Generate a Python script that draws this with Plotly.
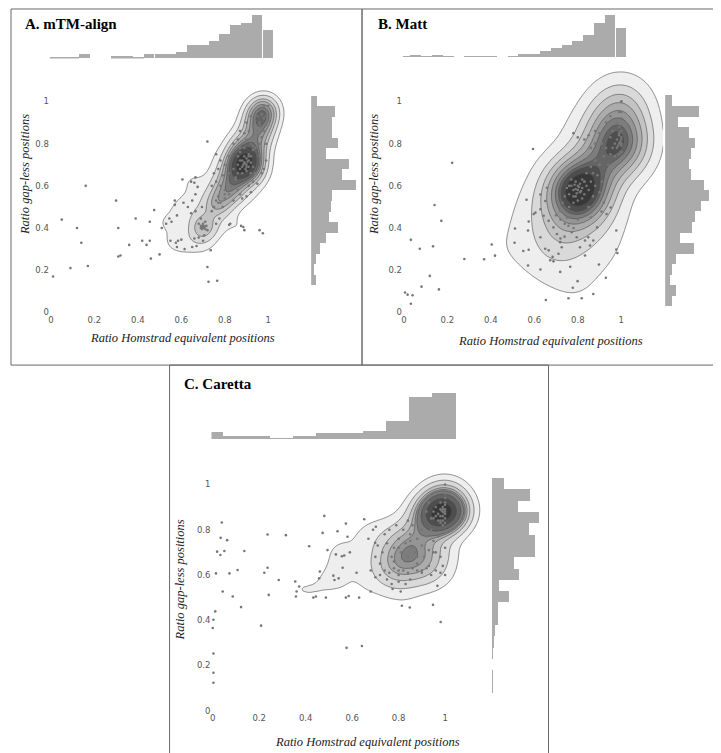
import numpy as np
import plotly.graph_objects as go

# ---------------- DATA ----------------
A_POINTS = [
    (0.01,0.17),(0.09,0.21),(0.17,0.22),(0.05,0.44),(0.12,0.40),(0.14,0.33),(0.16,0.60),(0.30,0.53),
    (0.31,0.40),(0.32,0.27),(0.31,0.265),(0.36,0.32),(0.39,0.445),(0.42,0.34),(0.44,0.32),(0.455,0.34),
    (0.455,0.43),(0.46,0.255),(0.475,0.485),(0.50,0.275),(0.51,0.40),(0.53,0.42),(0.545,0.445),(0.55,0.34),
    (0.555,0.43),(0.575,0.33),(0.585,0.34),(0.58,0.31),(0.60,0.345),(0.615,0.30),(0.65,0.31),(0.67,0.315),
    (0.72,0.81),(0.72,0.215),(0.725,0.145),(0.765,0.15),(0.735,0.295),(0.76,0.75),(0.82,0.415),(0.825,0.42),
    (0.875,0.41),(0.885,0.405),(0.89,0.39),(0.96,0.39),(0.975,0.375),
    (0.57,0.53),(0.57,0.51),(0.58,0.46),(0.605,0.63),(0.61,0.52),(0.63,0.50),(0.645,0.62),(0.66,0.615),
    (0.665,0.64),(0.675,0.595),(0.665,0.56),(0.65,0.53),(0.645,0.47),(0.665,0.48),(0.695,0.50),(0.69,0.445),
    (0.68,0.42),(0.70,0.41),(0.71,0.43),(0.72,0.39),(0.705,0.365),(0.68,0.355),(0.66,0.35),(0.70,0.34),
    (0.76,0.42),(0.775,0.445),(0.69,0.40),(0.71,0.395),(0.70,0.42),(0.695,0.395),(0.705,0.405),(0.715,0.41),
    (0.69,0.41),
    (0.74,0.48),(0.75,0.50),(0.76,0.53),(0.77,0.55),(0.78,0.52),(0.79,0.50),(0.80,0.54),(0.80,0.58),
    (0.78,0.60),(0.76,0.62),(0.74,0.60),(0.75,0.66),(0.77,0.68),(0.79,0.65),(0.81,0.62),(0.82,0.56),
    (0.84,0.53),(0.83,0.60),(0.82,0.66),(0.80,0.70),(0.78,0.72),(0.82,0.74),(0.84,0.68),(0.85,0.63),
    (0.86,0.58),(0.87,0.56),(0.88,0.54),(0.90,0.55),(0.92,0.57),(0.91,0.60),(0.93,0.62),(0.95,0.61),
    (0.97,0.66),(0.94,0.66),
    (0.86,0.70),(0.87,0.72),(0.88,0.69),(0.89,0.71),(0.90,0.70),(0.90,0.73),(0.91,0.69),(0.89,0.74),
    (0.88,0.66),(0.90,0.67),(0.92,0.71),(0.91,0.75),(0.87,0.76),(0.89,0.78),(0.86,0.66),(0.88,0.72),
    (0.895,0.705),(0.905,0.715),(0.885,0.70),(0.90,0.69),(0.92,0.74),(0.93,0.69),(0.86,0.74),(0.91,0.72),
    (0.895,0.68),
    (0.84,0.80),(0.86,0.82),(0.88,0.80),(0.90,0.82),(0.92,0.80),(0.94,0.78),(0.96,0.80),(0.93,0.84),
    (0.95,0.86),(0.91,0.86),(0.89,0.85),(0.87,0.86),(0.93,0.88),(0.96,0.90),(0.98,0.92),(0.97,0.94),
    (0.99,0.96),(0.95,0.93),(0.94,0.91),(0.97,0.88),(0.99,0.89),(1.0,0.98),(0.98,0.98),(0.96,0.96),
    (0.97,0.97),(0.99,0.93),(0.98,0.86),(1.0,0.91),(0.92,0.93),(0.90,0.90),(0.97,0.83),(0.99,0.80),
    (0.93,0.77),(0.96,0.74),(0.99,0.72),(0.98,0.68),
]
# overlapping observations hidden under one marker: (x, y, count)
A_STACKS = [
    (0.89,0.71,45),(0.87,0.68,20),(0.91,0.74,20),(0.85,0.64,15),(0.83,0.60,15),(0.80,0.56,12),
    (0.77,0.52,10),(0.75,0.50,6),(0.93,0.79,12),(0.95,0.84,12),(0.96,0.89,15),(0.97,0.94,22),
    (0.98,0.97,12),(0.70,0.40,10),(0.92,0.66,8),(0.87,0.78,8),
]

B_POINTS = [
    (0.005,0.094),(0.017,0.084),(0.04,0.081),(0.032,0.041),(0.032,0.344),(0.073,0.302),(0.081,0.122),
    (0.119,0.173),(0.134,0.313),(0.141,0.509),(0.161,0.109),(0.172,0.434),(0.222,0.709),(0.278,0.253),
    (0.369,0.252),(0.404,0.322),(0.419,0.269),(0.511,0.398),(0.509,0.33),(0.549,0.291),(0.571,0.222),
    (0.574,0.297),(0.594,0.775),(0.564,0.534),(0.574,0.431),(0.571,0.388),(0.597,0.466),(0.605,0.473),
    (0.628,0.203),(0.653,0.059),(0.628,0.356),(0.65,0.302),(0.666,0.294),(0.673,0.247),(0.688,0.242),
    (0.684,0.263),(0.711,0.278),(0.719,0.192),(0.726,0.309),(0.757,0.067),(0.765,0.216),(0.777,0.117),
    (0.799,0.148),(0.818,0.067),(0.833,0.27),(0.871,0.087),(0.897,0.227),(0.929,0.164),(0.977,0.298),
    (0.982,0.281),(0.977,0.388),(0.951,0.497),(0.932,0.466),(0.909,0.478),(0.889,0.403),(0.871,0.341),
    (0.856,0.317),(0.848,0.356),(0.833,0.341),(0.81,0.309),(0.795,0.356),(0.772,0.38),(0.757,0.411),
    (0.739,0.359),(0.719,0.333),(0.704,0.372),(0.688,0.403),(0.666,0.434),(0.643,0.458),(0.628,0.489),
    (0.65,0.528),(0.628,0.559),(0.658,0.591),
    (0.76,0.56),(0.77,0.60),(0.78,0.58),(0.79,0.55),(0.79,0.62),(0.80,0.58),(0.80,0.60),(0.81,0.57),
    (0.81,0.61),(0.82,0.59),(0.83,0.56),(0.82,0.63),(0.80,0.53),(0.78,0.52),(0.84,0.60),(0.83,0.62),
    (0.85,0.58),(0.77,0.63),(0.75,0.59),(0.79,0.585),(0.805,0.595),(0.815,0.575),(0.795,0.565),(0.785,0.605),
    (0.86,0.62),(0.74,0.55),(0.73,0.52),(0.76,0.50),(0.72,0.48),(0.70,0.46),
    (0.84,0.66),(0.86,0.69),(0.88,0.72),(0.90,0.70),(0.92,0.74),(0.89,0.65),(0.91,0.62),(0.93,0.66),
    (0.94,0.70),(0.87,0.55),(0.88,0.60),(0.90,0.57),(0.92,0.52),(0.85,0.50),(0.83,0.46),(0.86,0.45),
    (0.80,0.44),(0.78,0.40),(0.76,0.45),(0.74,0.42),(0.72,0.44),
    (0.98,0.78),(0.99,0.80),(1.0,0.82),(1.0,0.79),(0.99,0.84),(1.0,0.76),(0.98,0.82),(1.0,0.86),
    (0.99,0.75),(1.0,0.80),(0.995,0.81),(0.985,0.79),(1.0,0.83),(0.97,0.80),(0.99,0.88),(1.0,0.92),
    (0.99,0.95),(1.0,1.0),(0.98,0.90),(0.96,0.86),(0.95,0.83),(0.97,0.74),(0.96,0.78),
    (0.78,0.85),(0.80,0.83),(0.83,0.82),(0.85,0.84),(0.88,0.86),(0.90,0.85),(0.92,0.87),(0.94,0.90),
    (0.95,0.93),(0.88,0.80),(0.86,0.78),(0.91,0.80),(0.93,0.78),
]
B_STACKS = [
    (0.80,0.58,50),(0.78,0.55,15),(0.83,0.62,15),(0.76,0.60,10),(0.82,0.54,10),
    (1.0,0.80,35),(1.0,0.76,10),(0.99,0.85,15),(1.0,0.95,18),(1.0,1.0,12),
    (0.90,0.70,15),(0.95,0.75,10),(0.87,0.66,10),(0.75,0.45,8),(0.85,0.50,8),(0.72,0.35,6),(0.93,0.90,8),
]

C_POINTS = [
    (0.039,0.832),(0.034,0.764),(0.062,0.754),(0.019,0.703),(0.033,0.688),(0.05,0.706),(0.136,0.706),
    (0.014,0.607),(0.072,0.607),(0.107,0.622),(0.043,0.527),(0.086,0.505),(0.122,0.458),(0.011,0.439),
    (0.003,0.402),(0.0,0.366),(0.003,0.253),(0.003,0.168),(0.003,0.124),(0.208,0.376),(0.236,0.779),
    (0.222,0.61),(0.236,0.632),(0.241,0.512),(0.284,0.578),(0.315,0.776),(0.355,0.571),(0.372,0.549),
    (0.361,0.527),(0.358,0.505),(0.415,0.727),(0.433,0.5),(0.444,0.505),(0.461,0.615),(0.458,0.585),
    (0.473,0.786),(0.48,0.861),(0.487,0.5),(0.494,0.71),(0.519,0.597),(0.524,0.578),(0.53,0.691),
    (0.537,0.793),(0.542,0.585),(0.556,0.683),(0.559,0.632),(0.566,0.686),(0.573,0.827),(0.58,0.769),
    (0.59,0.7),(0.573,0.5),(0.585,0.507),(0.63,0.5),(0.619,0.61),(0.652,0.846),(0.68,0.527),(0.699,0.742),
    (0.702,0.813),(0.576,0.278),(0.642,0.286),(0.774,0.538),(0.809,0.527),(0.814,0.464),(0.848,0.456),
    (0.948,0.468),(0.981,0.392),(0.967,0.552),
    (0.72,0.60),(0.74,0.62),(0.76,0.61),(0.78,0.63),(0.80,0.60),(0.82,0.62),(0.84,0.61),(0.86,0.63),
    (0.88,0.62),(0.90,0.61),(0.92,0.63),(0.94,0.60),(0.96,0.62),(0.98,0.61),(1.0,0.60),(0.85,0.58),
    (0.80,0.57),(0.75,0.58),(0.70,0.59),(0.68,0.62),(0.72,0.65),(0.88,0.65),(0.93,0.64),(0.99,0.64),
    (0.77,0.56),(0.83,0.56),
    (0.73,0.70),(0.75,0.74),(0.77,0.68),(0.78,0.72),(0.80,0.76),(0.81,0.70),(0.83,0.74),(0.84,0.68),
    (0.85,0.78),(0.86,0.72),(0.87,0.70),(0.88,0.76),(0.89,0.80),(0.90,0.73),(0.91,0.68),(0.92,0.77),
    (0.93,0.71),(0.94,0.80),(0.95,0.75),(0.96,0.70),(0.82,0.80),(0.79,0.82),(0.76,0.80),(0.74,0.78),
    (0.71,0.73),(0.70,0.68),(0.67,0.76),(0.69,0.80),(0.86,0.82),(0.84,0.84),(0.97,0.77),(1.0,0.72),
    (0.98,0.68),
    (0.98,0.86),(0.99,0.88),(1.0,0.87),(0.99,0.90),(1.0,0.91),(0.98,0.89),(0.97,0.87),(1.0,0.85),
    (0.99,0.84),(1.0,0.89),(0.99,0.86),(0.98,0.92),(1.0,0.94),(0.99,0.97),(1.0,1.0),(0.99,0.82),
    (1.0,0.83),(0.96,0.90),(0.97,0.84),(0.995,0.875),(0.985,0.885),(1.0,0.88),(0.99,0.89),(0.98,0.83),
    (0.96,0.86),(0.95,0.88),(0.94,0.85),(0.92,0.88),(0.93,0.92),(0.90,0.90),(0.88,0.87),
]
C_STACKS = [
    (0.99,0.88,90),(1.0,0.92,20),(0.98,0.84,20),(1.0,0.96,10),(0.95,0.85,12),(0.90,0.80,12),
    (0.85,0.75,12),(0.80,0.72,12),(0.78,0.66,12),(0.88,0.68,12),(0.90,0.62,10),(0.80,0.62,10),(0.95,0.70,10),
]

# marginal histograms (bin centres and bar heights)
AB_TOP_CENTERS = [0.004,0.054,0.103,0.153,0.203,0.253,0.302,0.352,0.402,0.451,0.501,
                  0.551,0.600,0.650,0.700,0.750,0.799,0.849,0.899,0.948,0.998]
A_TOP_COUNTS = [0.7,0.7,0.7,4,0,0,2,2,0.7,4,4,4,6.3,13.3,13.3,18,24.7,34,35.7,43.3,28.7]
B_TOP_COUNTS = [0.5,2.3,0.7,2.3,0.3,0,0.3,0.3,1,0,0.7,3.3,3.3,6,9.3,11.7,16,22,34.3,42,29.3]

A_RIGHT_CENTERS = [0.155,0.205,0.255,0.305,0.355,0.405,0.455,0.505,0.555,0.605,
                   0.655,0.705,0.755,0.805,0.855,0.905,0.955,1.005]
A_RIGHT_COUNTS = [5.3,3,5.3,9,15.3,27,18,19.7,21.3,44.7,31.3,38,14.7,27,21.3,20.7,23.7,6.3]

B_RIGHT_CENTERS = [0.055,0.105,0.155,0.205,0.255,0.305,0.355,0.405,0.455,0.505,
                   0.555,0.605,0.655,0.705,0.755,0.805,0.855,0.905,0.955,1.005]
B_RIGHT_COUNTS = [7,11,5,7,11,29,15,27,30,36,44,39,26,24,26,30,24,13,34,6.7]

C_TOP_CENTERS = [-0.003,0.097,0.197,0.297,0.397,0.497,0.597,0.697,0.797,0.897,0.997]
C_TOP_COUNTS = [7.3,3,3,1.3,3.3,6,6,7.7,18.3,42.3,46]

C_RIGHT_CENTERS = [0.105,0.155,0.205,0.255,0.305,0.355,0.405,0.455,0.505,0.555,
                   0.605,0.655,0.705,0.755,0.805,0.855,0.905,0.955,1.005]
C_RIGHT_COUNTS = [0.7,0.7,0,0.7,1.7,2.7,6,6,16.7,6.7,26.7,21.7,42.7,43.3,36.7,46.7,26,37.7,11.7]

TICK_VALS = [0, 0.2, 0.4, 0.6, 0.8, 1]
TICK_TEXT = ["0", "0.2", "0.4", "0.6", "0.8", "1"]
TITLES = ["A. mTM-align", "B. Matt", "C. Caretta"]
X_TITLE = "Ratio Homstrad equivalent positions"
Y_TITLE = "Ratio gap-less positions"

# ---------------- LAYOUT HELPERS ----------------
W, H = 721, 753
def px_x(p): return p / W
def px_y(p): return 1 - p / H

BAND_COLORS = ["rgba(255,255,255,0)", "#eeeeee", "#d9d9d9", "#c3c3c3", "#acacac",
               "#959595", "#7d7d7d", "#656565", "#4e4e4e", "#383838"]
COLORSCALE = [[i / 9, c] for i, c in enumerate(BAND_COLORS)]
HIST_COLOR = "#ababab"

def kde_iso(pts, stacks, xr, yr, bw, n=150):
    xs = np.array([p[0] for p in pts] + [s[0] for s in stacks], dtype=float)
    ys = np.array([p[1] for p in pts] + [s[1] for s in stacks], dtype=float)
    ws = np.array([1.0] * len(pts) + [float(s[2]) for s in stacks])
    gx = np.linspace(xr[0], xr[1], n)
    gy = np.linspace(yr[0], yr[1], n)
    GX, GY = np.meshgrid(gx, gy)
    dens = np.zeros_like(GX)
    for px, py, w in zip(xs, ys, ws):
        dens += w * np.exp(-0.5 * (((GX - px) / bw[0]) ** 2 + ((GY - py) / bw[1]) ** 2))
    flat = dens.ravel()
    order = np.argsort(flat)[::-1]
    cum = np.cumsum(flat[order]) / flat.sum()
    prop = np.empty_like(flat)
    prop[order] = 1 - cum
    return gx, gy, prop.reshape(dens.shape)

# panel geometry in pixels
PANELS = [
    dict(pts=A_POINTS, stacks=A_STACKS, x0=41, x1=259, y0=306, y1=94, dx=(40, 292), dy=(72, 307),
         top_dy=(4, 50.7), right_dx=(302, 350), top_c=AB_TOP_CENTERS, top_n=A_TOP_COUNTS, top_w=0.0497,
         right_c=A_RIGHT_CENTERS, right_n=A_RIGHT_COUNTS, bw=(0.045, 0.045), thresh=0.12,
         box=(1, 1, 353, 359), title=(13, 16), xt=(173, 332), yt=(15, 167)),
    dict(pts=B_POINTS, stacks=B_STACKS, x0=395, x1=613, y0=306, y1=94, dx=(394, 655), dy=(52, 307),
         top_dy=(4, 49.3), right_dx=(657, 705), top_c=AB_TOP_CENTERS, top_n=B_TOP_COUNTS, top_w=0.0497,
         right_c=B_RIGHT_CENTERS, right_n=B_RIGHT_COUNTS, bw=(0.088, 0.092), thresh=0.08,
         box=(353, 1, 719, 359), title=(367, 16), xt=(542, 335), yt=(365, 167)),
    dict(pts=C_POINTS, stacks=C_STACKS, x0=203.3, x1=436.3, y0=706.5, y1=479, dx=(202, 481), dy=(445, 707.5),
         top_dy=(385, 433.3), right_dx=(483.3, 535), top_c=C_TOP_CENTERS, top_n=C_TOP_COUNTS, top_w=0.1,
         right_c=C_RIGHT_CENTERS, right_n=C_RIGHT_COUNTS, bw=(0.062, 0.052), thresh=0.145,
         box=(160, 359, 540, 752), title=(172, 378), xt=(358, 738), yt=(170, 575)),
]

fig = go.Figure()
layout = dict(width=W, height=H, margin=dict(l=0, r=0, t=0, b=0),
              paper_bgcolor="white", plot_bgcolor="rgba(0,0,0,0)", showlegend=False,
              bargap=0, shapes=[], annotations=[])

tick_font = dict(family="DejaVu Sans", size=8.5, color="#555555")
ax_base = dict(showgrid=False, zeroline=False, showline=False, ticks="")

for i, P in enumerate(PANELS):
    k = 3 * i
    xs, ys, xt_, yt_, xr_, yr_ = [f"{a}{'' if n == 1 else n}" for a, n in
                                  (("x", k + 1), ("y", k + 1), ("x", k + 2), ("y", k + 2), ("x", k + 3), ("y", k + 3))]
    sx = P["x1"] - P["x0"]
    sy = P["y0"] - P["y1"]
    xrange_ = [(P["dx"][0] - P["x0"]) / sx, (P["dx"][1] - P["x0"]) / sx]
    yrange_ = [(P["y0"] - P["dy"][1]) / sy, (P["y0"] - P["dy"][0]) / sy]
    xdom = [px_x(P["dx"][0]), px_x(P["dx"][1])]
    ydom = [px_y(P["dy"][1]), px_y(P["dy"][0])]

    gx, gy, z = kde_iso(P["pts"], P["stacks"], xrange_, yrange_, P["bw"])
    step = (1 - P["thresh"]) / 9
    fig.add_trace(go.Contour(x=gx, y=gy, z=z, xaxis=xs, yaxis=ys, colorscale=COLORSCALE,
                             autocontour=False, showscale=False, hoverinfo="skip",
                             contours=dict(start=P["thresh"], end=P["thresh"] + 8.5 * step, size=step,
                                           coloring="fill", showlines=True),
                             line=dict(color="#4a4a4a", width=0.6, smoothing=1.0)))
    all_x = [p[0] for p in P["pts"]] + [s[0] for s in P["stacks"]]
    all_y = [p[1] for p in P["pts"]] + [s[1] for s in P["stacks"]]
    fig.add_trace(go.Scatter(x=all_x, y=all_y, mode="markers",
                             xaxis=xs, yaxis=ys, cliponaxis=False, hoverinfo="skip",
                             marker=dict(size=2.6, color="#777777")))
    fig.add_trace(go.Bar(x=P["top_c"], y=P["top_n"], width=P["top_w"], xaxis=xt_, yaxis=yt_,
                         marker=dict(color=HIST_COLOR, line=dict(width=0)), hoverinfo="skip"))
    fig.add_trace(go.Bar(y=P["right_c"], x=P["right_n"], width=0.05, orientation="h", xaxis=xr_, yaxis=yr_,
                         marker=dict(color=HIST_COLOR, line=dict(width=0)), hoverinfo="skip"))

    key = lambda a: a[0] + "axis" + a[1:]
    layout[key(xs)] = dict(ax_base, domain=xdom, range=xrange_, anchor=ys, tickvals=TICK_VALS,
                           ticktext=TICK_TEXT, tickfont=tick_font)
    layout[key(ys)] = dict(ax_base, domain=ydom, range=yrange_, anchor=xs, tickvals=TICK_VALS,
                           ticktext=TICK_TEXT, tickfont=tick_font)
    th = P["top_dy"][1] - P["top_dy"][0]
    layout[key(xt_)] = dict(ax_base, domain=xdom, range=xrange_, anchor=yt_, showticklabels=False)
    layout[key(yt_)] = dict(ax_base, domain=[px_y(P["top_dy"][1]), px_y(P["top_dy"][0])],
                            range=[0, th], anchor=xt_, showticklabels=False)
    rw = P["right_dx"][1] - P["right_dx"][0]
    layout[key(xr_)] = dict(ax_base, domain=[px_x(P["right_dx"][0]), px_x(P["right_dx"][1])],
                            range=[0, rw], anchor=yr_, showticklabels=False)
    layout[key(yr_)] = dict(ax_base, domain=ydom, range=yrange_, anchor=xr_, showticklabels=False)

    bx0, by0, bx1, by1 = P["box"]
    layout["shapes"].append(dict(type="rect", xref="paper", yref="paper",
                                 x0=px_x(bx0), x1=px_x(bx1), y0=px_y(by1), y1=px_y(by0),
                                 line=dict(color="#6a6a6a", width=1), fillcolor="rgba(0,0,0,0)"))
    layout["annotations"].append(dict(text="<b>" + TITLES[i] + "</b>", xref="paper", yref="paper",
                                      x=px_x(P["title"][0]), y=px_y(P["title"][1]), xanchor="left",
                                      yanchor="middle", showarrow=False,
                                      font=dict(family="Liberation Serif", size=15, color="black")))
    layout["annotations"].append(dict(text="<i>" + X_TITLE + "</i>", xref="paper", yref="paper",
                                      x=px_x(P["xt"][0]), y=px_y(P["xt"][1]), xanchor="center",
                                      yanchor="middle", showarrow=False,
                                      font=dict(family="Liberation Serif", size=12.5, color="#222222")))
    layout["annotations"].append(dict(text="<i>" + Y_TITLE + "</i>", xref="paper", yref="paper",
                                      x=px_x(P["yt"][0]), y=px_y(P["yt"][1]), xanchor="center",
                                      yanchor="middle", showarrow=False, textangle=-90,
                                      font=dict(family="Liberation Serif", size=12.5, color="#222222")))

fig.update_layout(**layout)
fig.write_html("out.html")
